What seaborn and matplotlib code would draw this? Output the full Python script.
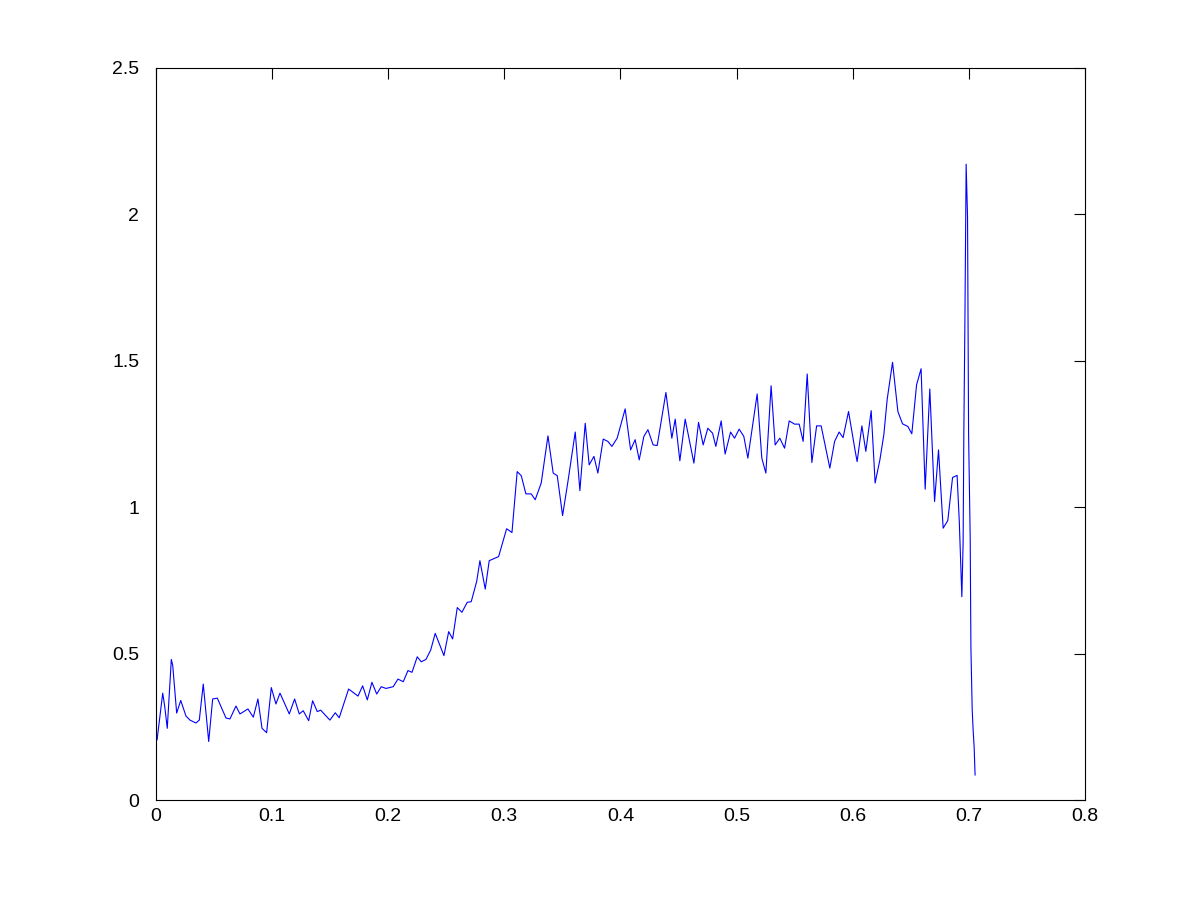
import numpy as np
import pandas as pd
import matplotlib
matplotlib.use("Agg")
import matplotlib.pyplot as plt
import seaborn as sns

# values
x_vals = [
    0.0009, 0.0058, 0.0075, 0.0097, 0.0132, 0.0144, 0.0178, 0.0213, 0.0258, 0.0293,
    0.0344, 0.0373, 0.0407, 0.0454, 0.0488, 0.0528, 0.0603, 0.0637, 0.0689, 0.0723,
    0.0792, 0.0838, 0.0878, 0.0913, 0.0953, 0.0993, 0.1033, 0.1068, 0.1148, 0.1194,
    0.1234, 0.1268, 0.1315, 0.1349, 0.1389, 0.1418, 0.1498, 0.1544, 0.1578, 0.1659,
    0.1740, 0.1780, 0.1820, 0.1860, 0.1901, 0.1940, 0.1981, 0.2043, 0.2084, 0.2130,
    0.2170, 0.2205, 0.2250, 0.2285, 0.2325, 0.2366, 0.2405, 0.2480, 0.2521, 0.2555,
    0.2595, 0.2635, 0.2681, 0.2715, 0.2762, 0.2790, 0.2836, 0.2870, 0.2951, 0.3020,
    0.3066, 0.3111, 0.3146, 0.3186, 0.3232, 0.3266, 0.3318, 0.3376, 0.3421, 0.3456,
    0.3502, 0.3548, 0.3611, 0.3651, 0.3697, 0.3731, 0.3772, 0.3806, 0.3852, 0.3892,
    0.3927, 0.3972, 0.4041, 0.4088, 0.4127, 0.4162, 0.4202, 0.4237, 0.4282, 0.4317,
    0.4392, 0.4443, 0.4472, 0.4512, 0.4558, 0.4633, 0.4673, 0.4713, 0.4753, 0.4794,
    0.4822, 0.4868, 0.4902, 0.4949, 0.4983, 0.5023, 0.5063, 0.5098, 0.5178, 0.5218,
    0.5253, 0.5298, 0.5333, 0.5373, 0.5414, 0.5454, 0.5500, 0.5540, 0.5574, 0.5609,
    0.5649, 0.5690, 0.5729, 0.5804, 0.5845, 0.5884, 0.5918, 0.5965, 0.6022, 0.6039,
    0.6080, 0.6114, 0.6160, 0.6194, 0.6235, 0.6269, 0.6298, 0.6344, 0.6390, 0.6430,
    0.6476, 0.6510, 0.6551, 0.6590, 0.6625, 0.6665, 0.6706, 0.6740, 0.6780, 0.6820,
    0.6861, 0.6900, 0.6919, 0.6941, 0.6952, 0.6958, 0.6967, 0.6974, 0.6978, 0.6990,
    0.6999, 0.7013, 0.7019, 0.7030, 0.7038, 0.7047, 0.7055,
]
y_vals = [
    0.205, 0.365, 0.320, 0.245, 0.480, 0.460, 0.297, 0.340, 0.287, 0.273,
    0.263, 0.273, 0.396, 0.200, 0.345, 0.348, 0.280, 0.277, 0.321, 0.294,
    0.311, 0.283, 0.345, 0.245, 0.230, 0.384, 0.328, 0.365, 0.294, 0.345,
    0.294, 0.305, 0.271, 0.339, 0.302, 0.307, 0.273, 0.298, 0.281, 0.379,
    0.355, 0.390, 0.342, 0.402, 0.362, 0.387, 0.381, 0.387, 0.413, 0.404,
    0.442, 0.436, 0.489, 0.472, 0.480, 0.512, 0.569, 0.493, 0.575, 0.550,
    0.657, 0.641, 0.675, 0.677, 0.746, 0.817, 0.720, 0.817, 0.831, 0.926,
    0.913, 1.121, 1.107, 1.045, 1.045, 1.025, 1.082, 1.243, 1.116, 1.107,
    0.971, 1.087, 1.256, 1.056, 1.286, 1.144, 1.173, 1.116, 1.232, 1.224,
    1.207, 1.235, 1.335, 1.195, 1.230, 1.161, 1.241, 1.264, 1.212, 1.210,
    1.391, 1.235, 1.300, 1.158, 1.300, 1.150, 1.289, 1.212, 1.269, 1.252,
    1.207, 1.294, 1.181, 1.256, 1.235, 1.266, 1.241, 1.167, 1.386, 1.167,
    1.116, 1.414, 1.212, 1.235, 1.201, 1.294, 1.283, 1.283, 1.224, 1.454,
    1.152, 1.277, 1.277, 1.133, 1.224, 1.256, 1.237, 1.326, 1.192, 1.155,
    1.277, 1.190, 1.329, 1.082, 1.161, 1.247, 1.368, 1.494, 1.326, 1.284,
    1.275, 1.250, 1.417, 1.472, 1.061, 1.403, 1.019, 1.195, 0.928, 0.954,
    1.101, 1.108, 0.950, 0.694, 0.880, 1.250, 1.620, 1.990, 2.170, 1.990,
    1.250, 0.890, 0.520, 0.310, 0.240, 0.180, 0.085,
]

x_ticks = [0, 0.1, 0.2, 0.3, 0.4, 0.5, 0.6, 0.7, 0.8]
x_tick_labels = ["0", "0.1", "0.2", "0.3", "0.4", "0.5", "0.6", "0.7", "0.8"]
y_ticks = [0, 0.5, 1, 1.5, 2, 2.5]
y_tick_labels = ["0", "0.5", "1", "1.5", "2", "2.5"]

sns.set_style("white")
plt.rcParams['font.family'] = ['Liberation Sans', 'DejaVu Sans']

df = pd.DataFrame({"x": x_vals, "y": y_vals})

fig = plt.figure(figsize=(12, 9), dpi=100)
ax = fig.add_axes([0.13, 0.111, 0.774, 0.814])

sns.lineplot(data=df, x="x", y="y", color=(0, 0, 1), linewidth=0.8,
             sort=False, estimator=None, ax=ax)

ax.set_xlim(0, 0.8)
ax.set_ylim(0, 2.5)
ax.set_xticks(x_ticks)
ax.set_xticklabels(x_tick_labels)
ax.set_yticks(y_ticks)
ax.set_yticklabels(y_tick_labels)
ax.set_xlabel("")
ax.set_ylabel("")

ax.tick_params(direction="in", length=8, width=0.8, top=True, right=True,
               labelsize=14, colors="black")
ax.tick_params(axis="x", pad=6)
ax.tick_params(axis="y", pad=12)
for side in ax.spines.values():
    side.set_visible(True)
    side.set_color("black")
    side.set_linewidth(0.8)

fig.savefig("out.png", dpi=100, facecolor="white")
